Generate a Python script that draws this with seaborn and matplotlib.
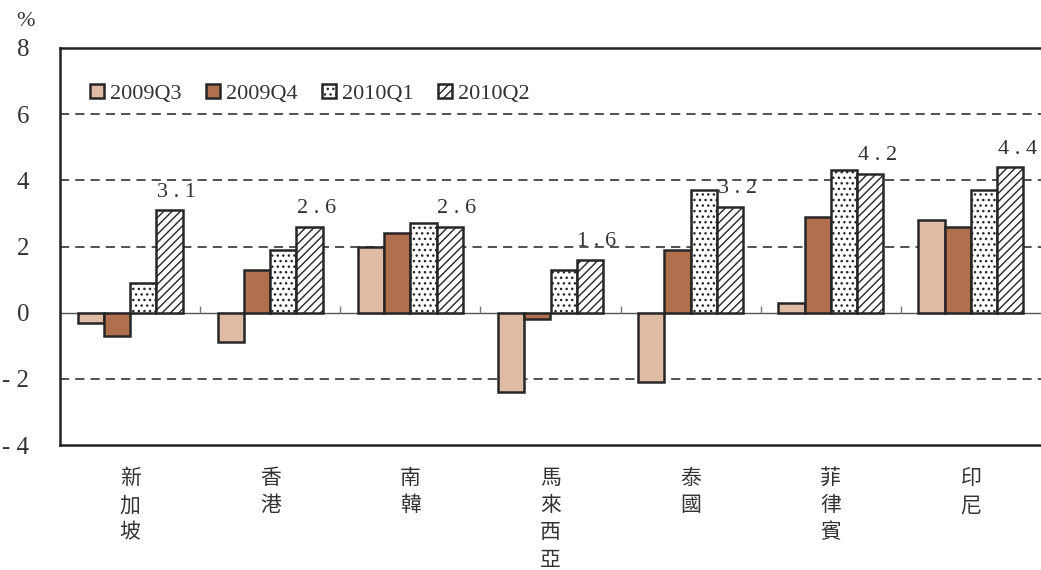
import numpy as np
import pandas as pd
import matplotlib
matplotlib.use("Agg")
import matplotlib.pyplot as plt
import seaborn as sns

# Quarterly GDP growth (%) by economy
countries = ["新加坡", "香港", "南韓", "馬來西亞", "泰國", "菲律賓", "印尼"]
quarters = ["2009Q3", "2009Q4", "2010Q1", "2010Q2"]
q2009_3 = [-0.3, -0.9, 2.0, -2.4, -2.1, 0.3, 2.8]
q2009_4 = [-0.7, 1.3, 2.4, -0.2, 1.9, 2.9, 2.6]
q2010_1 = [0.9, 1.9, 2.7, 1.3, 3.7, 4.3, 3.7]
q2010_2 = [3.1, 2.6, 2.6, 1.6, 3.2, 4.2, 4.4]
yticks = [-4, -2, 0, 2, 4, 6, 8]

colors = ["#dfbba4", "#b0704d", "#ffffff", "#ffffff"]
hatches = [None, None, "...", "////"]
edge = "#262626"

df = pd.DataFrame({
    "country": countries * 4,
    "quarter": np.repeat(quarters, len(countries)),
    "value": q2009_3 + q2009_4 + q2010_1 + q2010_2,
})

sns.set_style("white")
plt.rcParams["font.family"] = ["Liberation Serif", "Noto Sans CJK TC", "DejaVu Sans"]
plt.rcParams["hatch.linewidth"] = 1.0
plt.rcParams["hatch.color"] = edge

fig = plt.figure(figsize=(10.41, 5.70), dpi=100)
ax = fig.add_axes([60 / 1041, 125 / 570, 981 / 1041, 397 / 570])

sns.barplot(data=df, x="country", y="value", hue="quarter",
            order=countries, hue_order=quarters, palette=colors,
            saturation=1, width=0.75, edgecolor=edge, linewidth=1.8,
            legend=False, ax=ax, zorder=3)

for cont, h in zip(ax.containers, hatches):
    for p in cont.patches:
        if h:
            p.set_hatch(h)

ax.set_ylim(yticks[0], yticks[-1])
ax.set_xlim(-0.5, len(countries) - 0.5)
ax.set_yticks(yticks)
ax.set_yticklabels([f"- {abs(v)}" if v < 0 else f"{v}" for v in yticks],
                   fontsize=18, color="#333333")
ax.tick_params(axis="y", length=0, pad=22)

ax.set_xticks(range(len(countries)))
ax.set_xticklabels(["\n".join(c) for c in countries], fontsize=15,
                   family=["Noto Sans CJK TC"], fontweight="light",
                   linespacing=1.3, color="#333333", va="top")
ax.tick_params(axis="x", length=0, pad=16)
ax.set_xlabel("")
ax.set_ylabel("")

# dashed reference lines and zero line
for v in yticks:
    if v not in (0, yticks[0], yticks[-1]):
        ax.axhline(v, color="#222222", lw=1.1, ls=(0, (6, 4)), zorder=1)
ax.axhline(0, color="#555555", lw=1.0, zorder=2)
ax.vlines(np.arange(0.5, len(countries) - 0.5), 0, 0.2, color="#777777", lw=1.0, zorder=2)

for side in ("left", "top", "bottom"):
    ax.spines[side].set_linewidth(1.8)
    ax.spines[side].set_color("#222222")
ax.spines["right"].set_visible(False)

# value labels on the latest quarter
for p, v in zip(ax.containers[3].patches, q2010_2):
    ax.annotate(f"{v:.1f}".replace(".", " . "),
                xy=(p.get_x() + p.get_width() / 2, v),
                xytext=(5, 6), textcoords="offset points",
                ha="center", va="bottom", fontsize=16, color="#333333")

leg = ax.legend(ax.containers, quarters, loc="center left",
                bbox_to_anchor=(0.031, 0.884), ncol=4, frameon=False,
                fontsize=16, handlelength=0.6, handleheight=0.6,
                handletextpad=0.3, columnspacing=1.1, borderpad=0,
                borderaxespad=0)
for t in leg.get_texts():
    t.set_color("#333333")

fig.text(16 / 1041, 1 - 22 / 570, "%", fontsize=16, color="#333333",
         ha="left", va="center")

fig.savefig("out.png", dpi=100)
